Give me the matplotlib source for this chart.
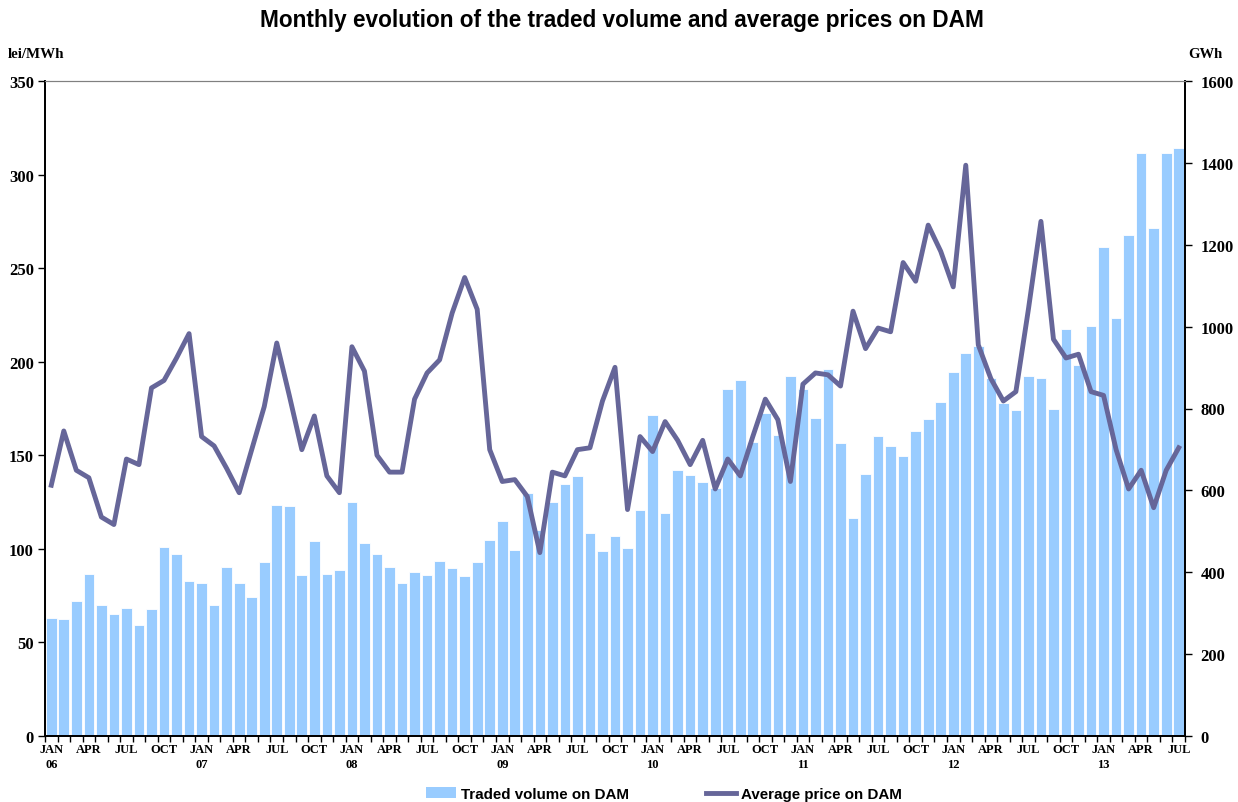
import numpy as np
import matplotlib.pyplot as plt
from matplotlib.patches import Patch
from matplotlib.lines import Line2D

# --- datos (ene 2006 - jul 2013) ---
years = ['06', '07', '08', '09', '10', '11', '12', '13']
months = ['JAN', 'FEB', 'MAR', 'APR', 'MAY', 'JUN', 'JUL', 'AUG', 'SEP', 'OCT', 'NOV', 'DEC']

# volumen negociado (GWh)
volume = [289, 287, 329, 396, 320, 298, 312, 270, 310, 461, 445, 378,
          374, 319, 413, 374, 339, 424, 564, 562, 393, 476, 396, 405,
          571, 471, 445, 413, 374, 400, 393, 428, 410, 392, 424, 480,
          526, 454, 594, 502, 572, 616, 635, 495, 451, 489, 460, 552,
          783, 544, 650, 638, 620, 606, 848, 870, 719, 790, 735, 879,
          848, 778, 897, 715, 533, 640, 733, 708, 683, 744, 774, 817,
          890, 936, 952, 874, 813, 796, 879, 874, 800, 994, 906, 1002,
          1194, 1020, 1224, 1424, 1240, 1424, 1436]

# precio medio (lei/MWh)
price = [134, 163, 142, 138, 117, 113, 148, 145, 186, 190, 202, 215,
         160, 155, 143, 130, 153, 176, 210, 182, 153, 171, 139, 130,
         208, 195, 150, 141, 141, 180, 194, 201, 226, 245, 228, 153,
         136, 137, 128, 98, 141, 139, 153, 154, 179, 197, 121, 160,
         152, 168, 158, 145, 158, 132, 148, 139, 160, 180, 169, 136,
         188, 194, 193, 187, 227, 207, 218, 216, 253, 243, 273, 259,
         240, 305, 209, 191, 179, 184, 228, 275, 212, 202, 204, 184,
         182, 153, 132, 142, 122, 142, 154]

n = len(volume)
x = np.arange(n)

bar_color = '#99CCFF'
line_color = '#666699'
serif = 'Liberation Serif'
sans = 'Liberation Sans'

fig = plt.figure(figsize=(12.38, 8.03), dpi=100)
ax = fig.add_axes([45/1238, 1 - 737/803, 1140/1238, 655/803])
ax2 = ax.twinx()

# barras en el eje derecho, linea encima en el izquierdo
ax2.bar(x, volume, width=0.85, color=bar_color, edgecolor='white', linewidth=0.6)
ax.plot(x, price, color=line_color, linewidth=3.5, solid_joinstyle='round')
ax.set_zorder(ax2.get_zorder() + 1)
ax.patch.set_visible(False)

ax.set_xlim(-0.5, n - 0.5)
ax.set_ylim(0, 350)
ax2.set_ylim(0, 1600)
ax.set_yticks(np.arange(0, 351, 50))
ax2.set_yticks(np.arange(0, 1601, 200))

# etiquetas del eje X: cada 3 meses, año bajo enero
pos = list(range(0, n, 3))
labs = []
for i in pos:
    m = months[i % 12]
    labs.append(m + '\n' + years[i // 12] if m == 'JAN' else m)
ax.set_xticks(pos)
ax.set_xticklabels(labs, fontfamily=serif, fontweight='bold', fontsize=9, linespacing=1.3)
ax.set_xticks(np.arange(-0.5, n, 1), minor=True)
ax.tick_params(axis='x', which='major', length=0, pad=5)
ax.tick_params(axis='x', which='minor', length=4, direction='out', width=1)

for a in (ax, ax2):
    for lab in a.get_yticklabels():
        lab.set_fontfamily(serif)
        lab.set_fontweight('bold')
        lab.set_fontsize(12)
ax.tick_params(axis='y', length=5, width=1, direction='out', pad=3)
ax2.tick_params(axis='y', length=5, width=1, direction='out', pad=6)

for a in (ax, ax2):
    a.spines['top'].set_color('#808080')
    a.spines['left'].set_linewidth(1.3)
    a.spines['right'].set_linewidth(1.3)
    a.spines['bottom'].set_linewidth(1.3)

fig.text(0.502, 1 - 20/803, 'Monthly evolution of the traded volume and average prices on DAM',
         ha='center', va='center', fontfamily=sans, fontweight='bold', fontsize=16.3)
fig.text(8/1238, 1 - 55/803, 'lei/MWh', ha='left', va='center',
         fontfamily=serif, fontweight='bold', fontsize=10.8)
fig.text(1188/1238, 1 - 55/803, 'GWh', ha='left', va='center',
         fontfamily=serif, fontweight='bold', fontsize=10.5)

handles = [Patch(facecolor=bar_color, edgecolor='none'),
           Line2D([0], [0], color=line_color, linewidth=3.5)]
fig.legend(handles, ['Traded volume on DAM', 'Average price on DAM'],
           loc='center', bbox_to_anchor=(0.536, 1 - 795/803), ncol=2, frameon=False,
           prop={'family': sans, 'weight': 'bold', 'size': 10.9},
           handlelength=2.0, handleheight=0.7, handletextpad=0.3, columnspacing=5.1)

fig.savefig('out.png', dpi=100)
